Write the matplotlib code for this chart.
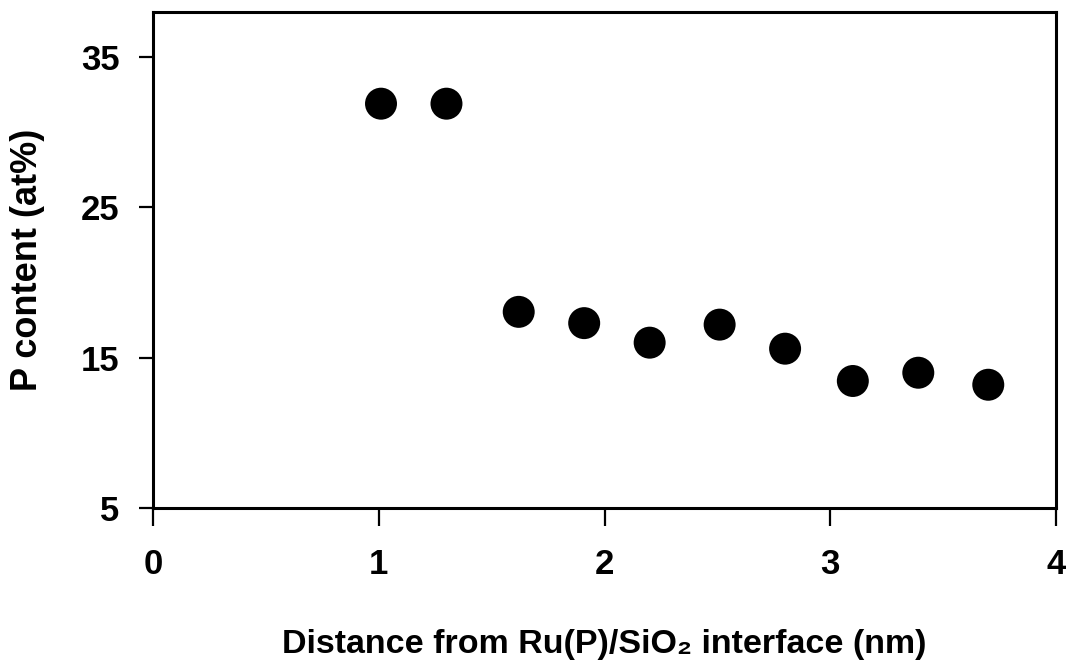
import matplotlib.pyplot as plt

plt.rcParams['font.family'] = ['Liberation Sans', 'DejaVu Sans']
plt.rcParams['font.weight'] = 'bold'

# P content profile measured from the Ru(P)/SiO2 interface
distance_nm = [1.01, 1.30, 1.62, 1.91, 2.20, 2.51, 2.80, 3.10, 3.39, 3.70]
p_content = [31.9, 31.9, 18.05, 17.3, 16.0, 17.2, 15.6, 13.45, 14.0, 13.2]

x_ticks = [0, 1, 2, 3, 4]
y_ticks = [5, 15, 25, 35]

fig = plt.figure(figsize=(10.66, 6.6), dpi=100)
ax = fig.add_axes([153 / 1066, 1 - 508 / 660, (1056 - 153) / 1066, (508 - 12) / 660])

ax.scatter(distance_nm, p_content, s=530, color='black', edgecolors='none', zorder=3)

ax.set_xlim(0, 4)
ax.set_ylim(5, 38)
ax.set_xticks(x_ticks)
ax.set_yticks(y_ticks)
ax.tick_params(axis='x', length=13, width=1.6, pad=16, labelsize=25)
ax.tick_params(axis='y', length=10, width=1.6, pad=14, labelsize=25)
for side in ax.spines.values():
    side.set_linewidth(2.2)

ax.set_xlabel('Distance from Ru(P)/SiO\u2082 interface (nm)', fontsize=24.5,
              fontweight='bold', labelpad=34)
ax.set_ylabel('P content (at%)', fontsize=26, fontweight='bold', labelpad=26)

fig.savefig('out.png', dpi=100, facecolor='white')
